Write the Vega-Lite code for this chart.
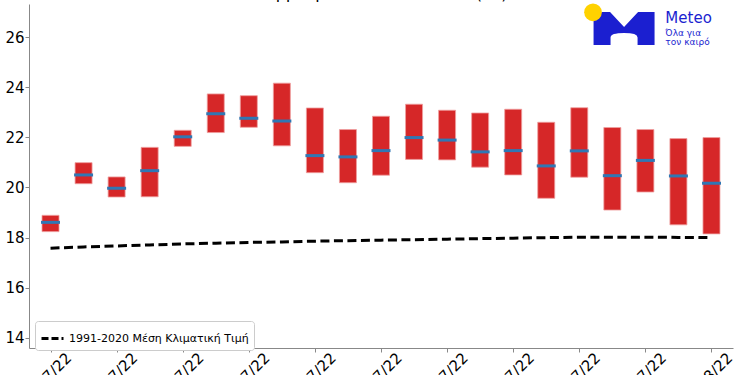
{
  "$schema": "https://vega.github.io/schema/vega-lite/v6.json",
  "width": 704,
  "height": 344,
  "autosize": {"type": "none"},
  "padding": {"left": 29, "top": 4, "right": 17, "bottom": 27},
  "background": "white",
  "config": {
    "font": "DejaVu Sans",
    "view": {"stroke": null},
    "axis": {"grid": false}
  },
  "title": {
    "text": "Θερμοκρασία Ιουλίου 2022 (°C)",
    "fontSize": 16,
    "fontWeight": "normal",
    "color": "black",
    "anchor": "middle",
    "offset": 1
  },
  "data": {
    "values": [
      {"date": "2022-07-12", "lo": 18.24, "hi": 18.89, "mean": 18.61, "clim": 17.58},
      {"date": "2022-07-13", "lo": 20.15, "hi": 20.99, "mean": 20.50, "clim": 17.63},
      {"date": "2022-07-14", "lo": 19.62, "hi": 20.42, "mean": 19.97, "clim": 17.67},
      {"date": "2022-07-15", "lo": 19.63, "hi": 21.60, "mean": 20.67, "clim": 17.71},
      {"date": "2022-07-16", "lo": 21.64, "hi": 22.28, "mean": 22.02, "clim": 17.75},
      {"date": "2022-07-17", "lo": 22.19, "hi": 23.73, "mean": 22.94, "clim": 17.78},
      {"date": "2022-07-18", "lo": 22.40, "hi": 23.66, "mean": 22.76, "clim": 17.81},
      {"date": "2022-07-19", "lo": 21.66, "hi": 24.16, "mean": 22.65, "clim": 17.83},
      {"date": "2022-07-20", "lo": 20.59, "hi": 23.17, "mean": 21.27, "clim": 17.86},
      {"date": "2022-07-21", "lo": 20.19, "hi": 22.31, "mean": 21.22, "clim": 17.88},
      {"date": "2022-07-22", "lo": 20.49, "hi": 22.84, "mean": 21.47, "clim": 17.90},
      {"date": "2022-07-23", "lo": 21.12, "hi": 23.32, "mean": 21.99, "clim": 17.92},
      {"date": "2022-07-24", "lo": 21.10, "hi": 23.08, "mean": 21.89, "clim": 17.94},
      {"date": "2022-07-25", "lo": 20.81, "hi": 22.97, "mean": 21.42, "clim": 17.96},
      {"date": "2022-07-26", "lo": 20.50, "hi": 23.12, "mean": 21.47, "clim": 17.98},
      {"date": "2022-07-27", "lo": 19.57, "hi": 22.60, "mean": 20.86, "clim": 18.00},
      {"date": "2022-07-28", "lo": 20.41, "hi": 23.18, "mean": 21.46, "clim": 18.02},
      {"date": "2022-07-29", "lo": 19.10, "hi": 22.39, "mean": 20.47, "clim": 18.02},
      {"date": "2022-07-30", "lo": 19.82, "hi": 22.31, "mean": 21.08, "clim": 18.02},
      {"date": "2022-07-31", "lo": 18.51, "hi": 21.95, "mean": 20.46, "clim": 18.01},
      {"date": "2022-08-01", "lo": 18.15, "hi": 21.99, "mean": 20.17, "clim": 18.00}
    ]
  },
  "layer": [
    {
      "mark": {"type": "bar", "width": 17, "color": "#d62728", "stroke": "#ef9f9f", "strokeWidth": 0.8},
      "encoding": {
        "x": {
          "field": "date",
          "type": "temporal",
          "scale": {
            "type": "utc",
            "domain": [
              {"year": 2022, "month": 7, "date": 11, "hours": 12, "utc": true},
              {"year": 2022, "month": 8, "date": 1, "hours": 12, "utc": true}
            ]
          },
          "axis": {
            "title": null,
            "values": [
              {"year": 2022, "month": 7, "date": 12, "utc": true},
              {"year": 2022, "month": 7, "date": 14, "utc": true},
              {"year": 2022, "month": 7, "date": 16, "utc": true},
              {"year": 2022, "month": 7, "date": 18, "utc": true},
              {"year": 2022, "month": 7, "date": 20, "utc": true},
              {"year": 2022, "month": 7, "date": 22, "utc": true},
              {"year": 2022, "month": 7, "date": 24, "utc": true},
              {"year": 2022, "month": 7, "date": 26, "utc": true},
              {"year": 2022, "month": 7, "date": 28, "utc": true},
              {"year": 2022, "month": 7, "date": 30, "utc": true},
              {"year": 2022, "month": 8, "date": 1, "utc": true}
            ],
            "labelExpr": "utcFormat(datum.value, '%d/%m/%y')",
            "labelAngle": -45,
            "labelAlign": "right",
            "labelBaseline": "top",
            "labelOffset": 13,
            "labelPadding": -2,
            "labelFontSize": 15,
            "labelColor": "black",
            "labelOverlap": false,
            "labelFlush": false,
            "tickSize": 4,
            "tickColor": "#888888",
            "domainColor": "#888888",
            "grid": false
          }
        },
        "y": {
          "field": "lo",
          "type": "quantitative",
          "scale": {"domain": [13.6, 27.316], "nice": false, "zero": false},
          "axis": {
            "title": null,
            "values": [14, 16, 18, 20, 22, 24, 26],
            "labelFontSize": 15,
            "labelColor": "black",
            "labelPadding": 1,
            "tickSize": 4,
            "tickColor": "#888888",
            "domainColor": "#888888",
            "grid": false
          }
        },
        "y2": {"field": "hi"}
      }
    },
    {
      "mark": {"type": "tick", "orient": "horizontal", "size": 19, "thickness": 3, "color": "#2f77b4", "opacity": 1},
      "encoding": {
        "x": {"field": "date", "type": "temporal"},
        "y": {"field": "mean", "type": "quantitative"}
      }
    },
    {
      "mark": {"type": "line", "strokeDash": [9, 4.5], "strokeWidth": 3},
      "encoding": {
        "x": {"field": "date", "type": "temporal"},
        "y": {"field": "clim", "type": "quantitative"},
        "color": {
          "datum": "1991-2020 Μέση Κλιματική Τιμή",
          "type": "nominal",
          "scale": {"range": ["#000000"]},
          "legend": {
            "title": null,
            "orient": "none",
            "legendX": 6,
            "legendY": 317,
            "padding": 5,
            "strokeColor": "#cccccc",
            "fillColor": "white",
            "cornerRadius": 3,
            "symbolType": "stroke",
            "symbolStrokeWidth": 3,
            "symbolDash": [7, 3],
            "symbolSize": 484,
            "labelFontSize": 11,
            "labelColor": "black",
            "labelLimit": 400
          }
        }
      }
    },
    {
      "data": {"values": [{}]},
      "mark": {
        "type": "point",
        "shape": "M-1,-0.541L-0.459,-0.541L0,-0.049L0.459,-0.541L1,-0.541L1,0.541L0.443,0.541L0.443,0.295Q0.443,0.148,0,0.148Q-0.443,0.148,-0.443,0.295L-0.443,0.541L-1,0.541Z",
        "size": 3721,
        "filled": true,
        "opacity": 1,
        "color": "#1b1fd0",
        "strokeWidth": 0
      },
      "encoding": {
        "x": {"datum": {"year": 2022, "month": 7, "date": 29, "hours": 8, "minutes": 31, "utc": true}, "type": "temporal"},
        "y": {"datum": 26.339, "type": "quantitative"}
      }
    },
    {
      "data": {"values": [{}]},
      "mark": {"type": "point", "shape": "circle", "size": 314, "filled": true, "opacity": 1, "color": "#ffd200", "strokeWidth": 0},
      "encoding": {
        "x": {"datum": {"year": 2022, "month": 7, "date": 28, "hours": 9, "minutes": 58, "utc": true}, "type": "temporal"},
        "y": {"datum": 26.985, "type": "quantitative"}
      }
    },
    {
      "data": {"values": [{}]},
      "mark": {"type": "text", "text": "Meteo", "align": "left", "baseline": "alphabetic", "fontSize": 15, "color": "#1b1fd0"},
      "encoding": {
        "x": {"datum": {"year": 2022, "month": 7, "date": 30, "hours": 14, "minutes": 30, "utc": true}, "type": "temporal"},
        "y": {"datum": 26.558, "type": "quantitative"}
      }
    },
    {
      "data": {"values": [{}]},
      "mark": {"type": "text", "text": "Όλα για", "align": "left", "baseline": "alphabetic", "fontSize": 9, "color": "#1b1fd0"},
      "encoding": {
        "x": {"datum": {"year": 2022, "month": 7, "date": 30, "hours": 14, "minutes": 30, "utc": true}, "type": "temporal"},
        "y": {"datum": 26.052, "type": "quantitative"}
      }
    },
    {
      "data": {"values": [{}]},
      "mark": {"type": "text", "text": "τον καιρό", "align": "left", "baseline": "alphabetic", "fontSize": 9, "color": "#1b1fd0"},
      "encoding": {
        "x": {"datum": {"year": 2022, "month": 7, "date": 30, "hours": 14, "minutes": 30, "utc": true}, "type": "temporal"},
        "y": {"datum": 25.693, "type": "quantitative"}
      }
    }
  ]
}
